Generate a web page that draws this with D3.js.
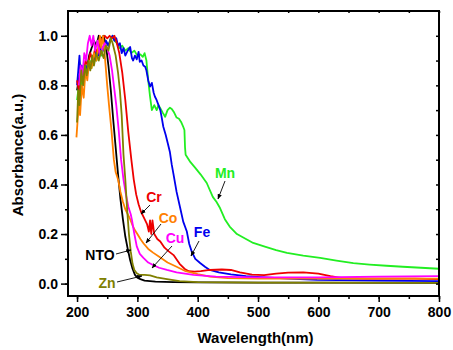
<!DOCTYPE html>
<html>
<head>
<meta charset="utf-8">
<script src="https://cdn.jsdelivr.net/npm/d3@7"></script>
<style>
  body { margin: 0; background: #fff; }
  text { font-family: "Liberation Sans", Arial, sans-serif; font-weight: bold; }
</style>
</head>
<body>
<svg id="chart" width="453" height="350"></svg>
<script>
// absorbance spectra, [wavelength nm, absorbance a.u.]
const ntoData = [[200,0.78],[204,0.84],[208,0.82],[212,0.88],[216,0.86],[220,0.92],[224,0.95],[228,0.98],[232,0.96],[236,1.0],[240,0.99],[244,1.0],[248,0.96],[252,0.88],[256,0.78],[260,0.66],[264,0.55],[268,0.44],[272,0.34],[276,0.26],[280,0.19],[284,0.14],[288,0.095],[292,0.06],[296,0.035],[300,0.024],[305,0.018],[312,0.012],[330,0.008],[360,0.006],[400,0.005],[500,0.004],[600,0.004],[800,0.003]]

const crData = [[200,0.82],[203,0.78],[206,0.86],[210,0.84],[214,0.9],[218,0.88],[222,0.93],[226,0.9],[230,0.95],[234,0.93],[238,0.97],[242,0.99],[246,1.0],[250,0.99],[254,1.0],[258,0.99],[262,1.0],[266,0.97],[270,0.93],[275,0.85],[280,0.74],[285,0.61],[290,0.5],[294,0.42],[298,0.36],[302,0.32],[306,0.29],[311,0.265],[316,0.24],[319,0.21],[321,0.255],[323,0.2],[325,0.255],[328,0.2],[333,0.18],[338,0.17],[345,0.145],[352,0.13],[360,0.115],[370,0.08],[378,0.06],[385,0.05],[395,0.048],[405,0.05],[420,0.055],[440,0.057],[455,0.055],[470,0.045],[490,0.036],[510,0.034],[530,0.04],[550,0.044],[575,0.045],[600,0.04],[620,0.03],[640,0.022],[680,0.02],[720,0.02],[760,0.02],[800,0.018]]

const mnData = [[200,0.74],[203,0.8],[206,0.76],[209,0.85],[212,0.82],[215,0.88],[218,0.85],[221,0.9],[224,0.87],[228,0.92],[232,0.9],[236,0.94],[240,0.92],[244,0.95],[248,0.97],[252,0.96],[256,0.99],[259,1.0],[262,0.98],[266,0.97],[270,0.95],[275,0.96],[280,0.94],[285,0.95],[290,0.93],[295,0.94],[300,0.92],[305,0.925],[309,0.915],[312,0.93],[315,0.9],[318,0.82],[321,0.755],[324,0.7],[328,0.72],[332,0.7],[335,0.72],[338,0.708],[342,0.69],[346,0.673],[350,0.7],[354,0.71],[357,0.705],[361,0.69],[365,0.67],[369,0.665],[373,0.65],[376,0.633],[378,0.62],[379,0.55],[380,0.52],[388,0.49],[396,0.467],[405,0.44],[415,0.406],[425,0.35],[431,0.33],[437,0.305],[445,0.26],[453,0.23],[465,0.2],[480,0.18],[492,0.164],[510,0.15],[530,0.135],[548,0.124],[575,0.113],[603,0.104],[630,0.093],[658,0.083],[685,0.077],[713,0.072],[740,0.068],[770,0.064],[800,0.06]]

const feData = [[200,0.8],[202,0.86],[204,0.92],[206,0.84],[208,0.88],[211,0.82],[214,0.88],[217,0.86],[220,0.9],[223,0.87],[226,0.92],[229,0.9],[232,0.94],[236,0.92],[240,0.96],[244,0.94],[248,0.98],[252,0.96],[256,0.99],[259,1.0],[262,0.98],[265,0.99],[268,0.96],[271,0.97],[274,0.93],[277,0.95],[280,0.92],[284,0.94],[288,0.955],[291,0.91],[293,0.9],[296,0.92],[299,0.905],[302,0.935],[304,0.895],[307,0.9],[310,0.88],[313,0.875],[315,0.86],[318,0.82],[321,0.795],[324,0.81],[327,0.77],[329,0.755],[332,0.74],[335,0.72],[338,0.7],[340,0.675],[343,0.633],[347,0.6],[351,0.56],[354,0.53],[357,0.48],[360,0.44],[365,0.37],[371,0.305],[376,0.25],[382,0.21],[386,0.16],[390,0.13],[396,0.1],[404,0.083],[412,0.068],[420,0.055],[435,0.045],[455,0.037],[480,0.03],[498,0.027],[550,0.02],[598,0.015],[700,0.012],[800,0.01]]

const coData = [[199,0.59],[201,0.66],[203,0.72],[205,0.68],[208,0.8],[211,0.75],[214,0.86],[217,0.82],[220,0.9],[224,0.87],[228,0.93],[232,0.9],[236,0.97],[238,1.0],[240,0.95],[243,1.0],[246,0.92],[250,0.8],[253,0.72],[257,0.62],[261,0.5],[264,0.45],[268,0.42],[272,0.37],[276,0.33],[280,0.3],[284,0.28],[288,0.26],[292,0.235],[296,0.215],[300,0.2],[305,0.18],[310,0.163],[318,0.14],[326,0.125],[338,0.105],[350,0.085],[365,0.068],[380,0.05],[400,0.038],[420,0.028],[450,0.022],[500,0.02],[600,0.02],[700,0.02],[800,0.02]]

const cuData = [[203,0.8],[206,0.88],[209,0.84],[212,0.93],[215,0.9],[218,0.97],[221,1.0],[224,0.96],[227,1.0],[230,0.94],[234,0.98],[238,0.92],[242,0.95],[246,0.97],[250,0.95],[254,0.92],[258,0.86],[262,0.78],[265,0.72],[269,0.62],[273,0.5],[277,0.42],[281,0.36],[285,0.31],[289,0.28],[291,0.257],[295,0.2],[299,0.15],[304,0.12],[310,0.104],[318,0.085],[326,0.075],[336,0.064],[349,0.055],[365,0.045],[393,0.035],[430,0.028],[500,0.025],[600,0.025],[700,0.028],[800,0.03]]

const znData = [[200,0.65],[202,0.78],[204,0.72],[207,0.86],[210,0.8],[213,0.88],[216,0.84],[219,0.9],[222,0.86],[225,0.92],[228,0.88],[232,0.93],[236,0.9],[240,0.94],[244,0.91],[248,0.96],[252,0.94],[256,0.99],[259,0.97],[264,0.92],[268,0.85],[271,0.78],[274,0.68],[277,0.52],[280,0.42],[283,0.3],[286,0.2],[289,0.13],[292,0.08],[295,0.055],[299,0.042],[304,0.035],[312,0.035],[321,0.033],[332,0.025],[349,0.018],[370,0.01],[400,0.006],[500,0.004],[800,0.003]]

const seriesNames = ['NTO', 'Mn', 'Fe', 'Cr', 'Co', 'Cu', 'Zn']
const seriesData = [ntoData, mnData, feData, crData, coData, cuData, znData]
const seriesColors = ['#000000', '#22ee22', '#0000ee', '#ee0000', '#ff8000', '#ff00ff', '#808000']

const xTicks = [200, 300, 400, 500, 600, 700, 800]
const yTicks = [0.0, 0.2, 0.4, 0.6, 0.8, 1.0]

// label text position and arrow (from -> to) for each series
const labels = [
  {name: 'NTO', tx: 100, ty: 255, from: [116, 254], to: [131, 250]},
  {name: 'Mn', tx: 225, ty: 173, from: [225, 181], to: [218, 199]},
  {name: 'Fe', tx: 202, ty: 232, from: [199, 241], to: [191, 256]},
  {name: 'Cr', tx: 154, ty: 197, from: [150, 205], to: [141, 214]},
  {name: 'Co', tx: 168, ty: 218, from: [161, 224], to: [146, 243]},
  {name: 'Cu', tx: 175, ty: 238, from: [172, 246], to: [152, 268]},
  {name: 'Zn', tx: 107, ty: 283, from: [117, 282], to: [142, 276]}
]

const svg = d3.select('#chart')
const plotL = 68, plotR = 439, plotT = 11, plotB = 296

const x = d3.scaleLinear().domain([185, 800]).range([plotL, plotR])
const y = d3.scaleLinear().domain([-0.05, 1.1]).range([plotB, plotT])

// curves
const line = d3.line().x(d => x(d[0])).y(d => y(d[1]))
seriesData.forEach((data, i) => {
  svg.append('path')
    .datum(data)
    .attr('d', line)
    .attr('fill', 'none')
    .attr('stroke', seriesColors[i])
    .attr('stroke-width', 1.8)
    .attr('stroke-linejoin', 'round')
})

// axes
const xMinor = d3.range(200, 801, 50)
const yMinor = d3.range(0, 1.01, 0.1)

svg.append('g')
  .attr('transform', `translate(0,${plotB})`)
  .call(d3.axisBottom(x).tickValues(xMinor).tickSize(3).tickFormat(''))
svg.append('g')
  .attr('transform', `translate(0,${plotB})`)
  .call(d3.axisBottom(x).tickValues(xTicks).tickSize(6).tickPadding(5).tickFormat(d3.format('d')))
svg.append('g')
  .attr('transform', `translate(${plotL},0)`)
  .call(d3.axisLeft(y).tickValues(yMinor).tickSize(3).tickFormat(''))
svg.append('g')
  .attr('transform', `translate(${plotL},0)`)
  .call(d3.axisLeft(y).tickValues(yTicks).tickSize(7).tickPadding(3).tickFormat(d3.format('.1f')))
svg.append('g')
  .attr('transform', `translate(0,${plotT})`)
  .call(d3.axisBottom(x).tickValues(xMinor).tickSize(2).tickFormat(''))
svg.append('g')
  .attr('transform', `translate(${plotR},0)`)
  .call(d3.axisLeft(y).tickValues(yMinor).tickSize(3).tickFormat(''))

svg.selectAll('.domain').remove()
svg.selectAll('.tick line').attr('stroke', '#000').attr('stroke-width', 1.5)
svg.selectAll('.tick text').attr('font-size', 14).attr('fill', '#000')

svg.append('rect')
  .attr('x', plotL).attr('y', plotT)
  .attr('width', plotR - plotL).attr('height', plotB - plotT)
  .attr('fill', 'none').attr('stroke', '#000').attr('stroke-width', 2)

// axis titles
svg.append('text')
  .attr('x', (plotL + plotR) / 2 + 2).attr('y', 343)
  .attr('text-anchor', 'middle').attr('font-size', 15)
  .text('Wavelength(nm)')
svg.append('text')
  .attr('transform', 'translate(23,155) rotate(-90)')
  .attr('text-anchor', 'middle').attr('font-size', 15)
  .text('Absorbance(a.u.)')

// labels with arrows
svg.append('defs').append('marker')
  .attr('id', 'arrow')
  .attr('viewBox', '0 0 10 10')
  .attr('refX', 9).attr('refY', 5)
  .attr('markerWidth', 6).attr('markerHeight', 6)
  .attr('orient', 'auto')
  .append('path').attr('d', 'M0,1 L10,5 L0,9 Z').attr('fill', '#000')

labels.forEach(l => {
  const color = seriesColors[seriesNames.indexOf(l.name)]
  svg.append('line')
    .attr('x1', l.from[0]).attr('y1', l.from[1])
    .attr('x2', l.to[0]).attr('y2', l.to[1])
    .attr('stroke', '#000').attr('stroke-width', 0.9)
    .attr('marker-end', 'url(#arrow)')
  svg.append('text')
    .attr('x', l.tx).attr('y', l.ty)
    .attr('dy', '0.35em')
    .attr('text-anchor', 'middle')
    .attr('font-size', 14)
    .attr('fill', color)
    .text(l.name)
})
</script>
</body>
</html>
